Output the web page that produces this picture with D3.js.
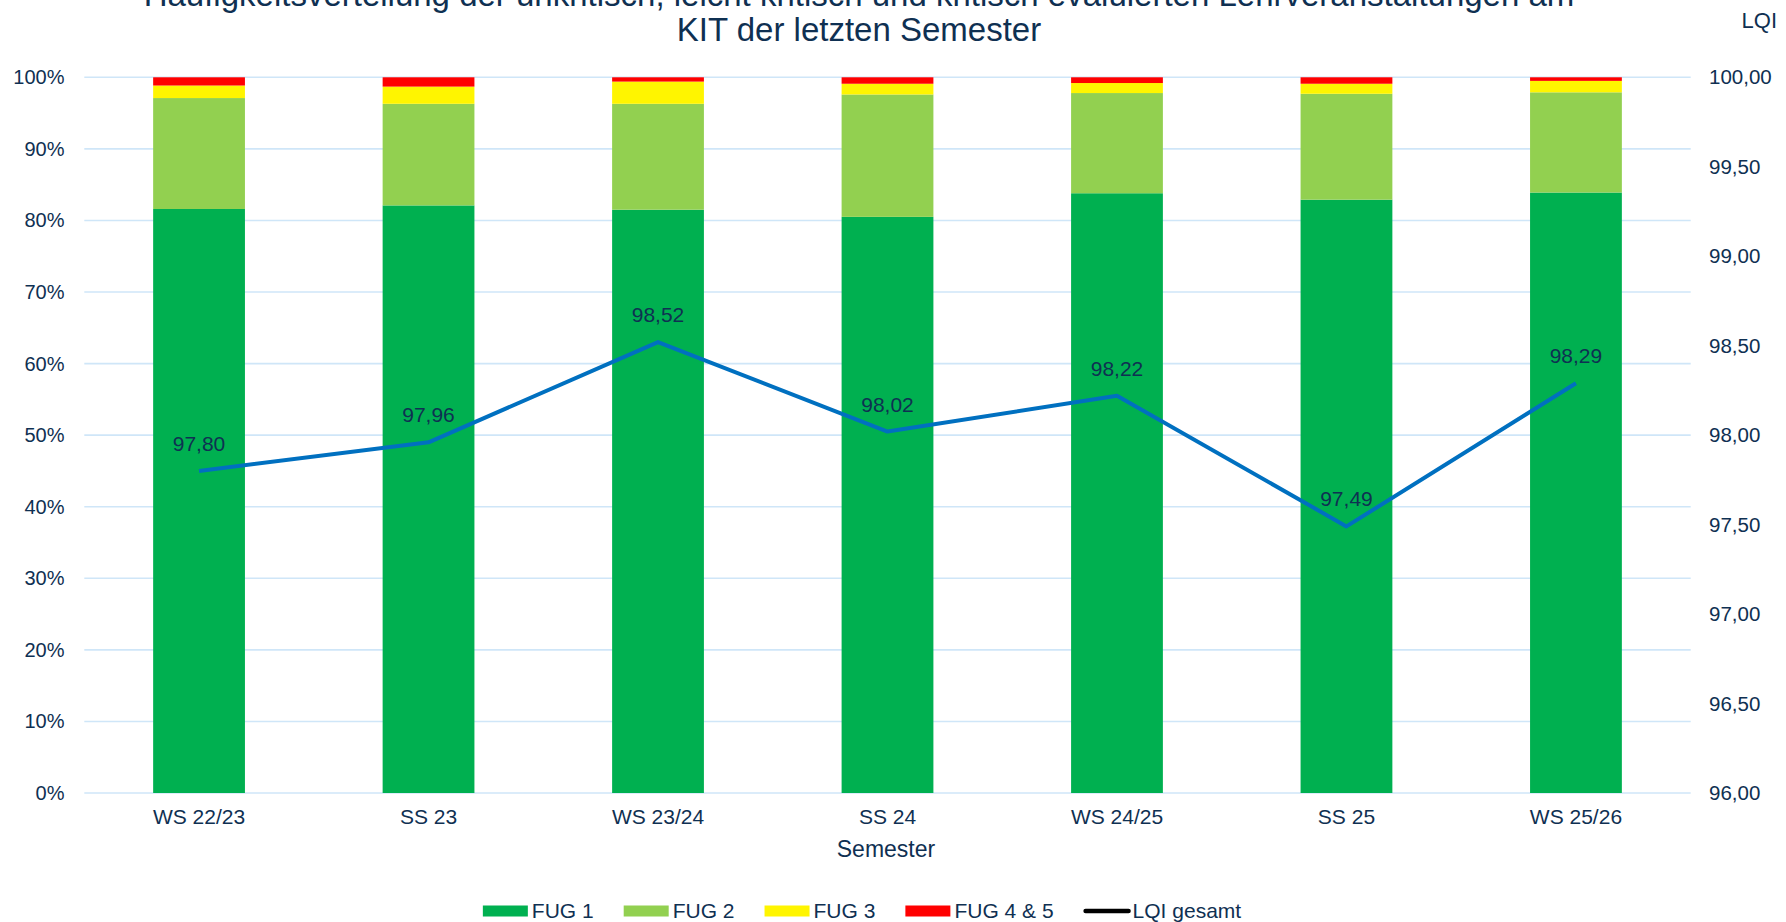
<!DOCTYPE html>
<html>
<head>
<meta charset="utf-8">
<script src="https://cdn.jsdelivr.net/npm/d3@7"></script>
<style>
  html, body { margin: 0; padding: 0; background: #fff; }
  svg text { font-family: "Liberation Sans", Arial, sans-serif; fill: #0f3052; }
</style>
</head>
<body>
<svg id="chart" width="1786" height="922"></svg>
<script>
const categories = ["WS 22/23", "SS 23", "WS 23/24", "SS 24", "WS 24/25", "SS 25", "WS 25/26"];
const fug1  = [81.6, 82.1, 81.5, 80.5, 83.8, 82.9, 83.9];
const fug2  = [15.5, 14.2, 14.8, 17.1, 14.0, 14.8, 14.0];
const fug3  = [1.75, 2.4, 3.1, 1.5, 1.4, 1.4, 1.6];
const fug45 = [1.15, 1.3, 0.6, 0.9, 0.8, 0.9, 0.5];
const lqi   = [97.80, 97.96, 98.52, 98.02, 98.22, 97.49, 98.29];
const leftTicks  = [0, 10, 20, 30, 40, 50, 60, 70, 80, 90, 100];
const rightTicks = [96.0, 96.5, 97.0, 97.5, 98.0, 98.5, 99.0, 99.5, 100.0];
const seriesNames = ["FUG 1", "FUG 2", "FUG 3", "FUG 4 & 5"];
const lineName = "LQI gesamt";
const titleLines = ["Häufigkeitsverteilung der unkritisch, leicht kritisch und kritisch evaluierten Lehrveranstaltungen am", "KIT der letzten Semester"];
const xTitle = "Semester";
const yRightTitle = "LQI";

const colors = ["#00B050", "#92D050", "#FFF500", "#FF0000"];
const lineColor = "#0070C0";
const gridColor = "#CFE6F8";

const svg = d3.select("#chart");
const plot = { left: 84.3, right: 1690.7, top: 77.3, bottom: 793 };

const x = d3.scaleBand().domain(categories).range([plot.left, plot.right]).paddingInner(0.6).paddingOuter(0.3);
const yL = d3.scaleLinear().domain([0, 100]).range([plot.bottom, plot.top]);
const yR = d3.scaleLinear().domain([96, 100]).range([plot.bottom, plot.top]);

// gridlines
svg.append("g").selectAll("line").data(leftTicks).join("line")
  .attr("x1", plot.left).attr("x2", plot.right)
  .attr("y1", d => yL(d)).attr("y2", d => yL(d))
  .attr("stroke", gridColor).attr("stroke-width", 1.6);

// stacked data
const rows = categories.map((c, i) => ({ cat: c, "FUG 1": fug1[i], "FUG 2": fug2[i], "FUG 3": fug3[i], "FUG 4 & 5": fug45[i] }));
const stacked = d3.stack().keys(seriesNames)(rows);

svg.append("g").selectAll("g").data(stacked).join("g")
  .attr("fill", (d, i) => colors[i])
  .selectAll("rect").data(d => d).join("rect")
  .attr("x", d => x(d.data.cat))
  .attr("width", x.bandwidth())
  .attr("y", d => yL(d[1]))
  .attr("height", d => yL(d[0]) - yL(d[1]));

// left axis labels
svg.append("g").selectAll("text").data(leftTicks).join("text")
  .attr("x", 64.5).attr("y", d => yL(d)).attr("dy", "0.35em")
  .attr("text-anchor", "end").attr("font-size", 20)
  .text(d => d + "%");

// right axis labels
const fmtR = v => v.toFixed(2).replace(".", ",");
svg.append("g").selectAll("text").data(rightTicks).join("text")
  .attr("x", 1709).attr("y", d => yR(d)).attr("dy", "0.35em")
  .attr("text-anchor", "start").attr("font-size", 20.5)
  .text(d => fmtR(d));

svg.append("text").attr("x", 1777).attr("y", 28).attr("text-anchor", "end")
  .attr("font-size", 22).text(yRightTitle);

// x labels
svg.append("g").selectAll("text").data(categories).join("text")
  .attr("x", d => x(d) + x.bandwidth() / 2).attr("y", 824)
  .attr("text-anchor", "middle").attr("font-size", 21)
  .text(d => d);

svg.append("text").attr("x", 886).attr("y", 857).attr("text-anchor", "middle")
  .attr("font-size", 23).text(xTitle);

// line
const line = d3.line().x((d, i) => x(categories[i]) + x.bandwidth() / 2).y(d => yR(d));
svg.append("path").datum(lqi).attr("d", line)
  .attr("fill", "none").attr("stroke", lineColor).attr("stroke-width", 4)
  .attr("stroke-linejoin", "round");

svg.append("g").selectAll("text").data(lqi).join("text")
  .attr("x", (d, i) => x(categories[i]) + x.bandwidth() / 2)
  .attr("y", d => yR(d) - 20)
  .attr("text-anchor", "middle").attr("font-size", 21)
  .text(d => fmtR(d));

// title
svg.append("text").attr("x", 859).attr("y", 6).attr("text-anchor", "middle")
  .attr("font-size", 33).text(titleLines[0]);
svg.append("text").attr("x", 859).attr("y", 41).attr("text-anchor", "middle")
  .attr("font-size", 33).text(titleLines[1]);

// legend
const legend = svg.append("g");
const items = seriesNames.map((n, i) => ({ name: n, color: colors[i], type: "rect" }))
  .concat([{ name: lineName, color: "#000", type: "line" }]);
let cx = 0;
const legendY = 911;
items.forEach((it, i) => {
  const g = legend.append("g").attr("transform", `translate(${cx},0)`);
  if (it.type === "rect") {
    g.append("rect").attr("x", 0).attr("y", legendY - 5.5).attr("width", 45).attr("height", 11).attr("fill", it.color);
  } else {
    g.append("line").attr("x1", 2).attr("x2", 45).attr("y1", legendY).attr("y2", legendY)
      .attr("stroke", it.color).attr("stroke-width", 4.5).attr("stroke-linecap", "round");
  }
  const t = g.append("text").attr("x", 49).attr("y", legendY).attr("dy", "0.35em")
    .attr("font-size", 21).text(it.name);
  cx += 49 + t.node().getComputedTextLength() + 30;
});
const total = cx - 30;
legend.attr("transform", `translate(${862 - total / 2},0)`);
</script>
</body>
</html>
